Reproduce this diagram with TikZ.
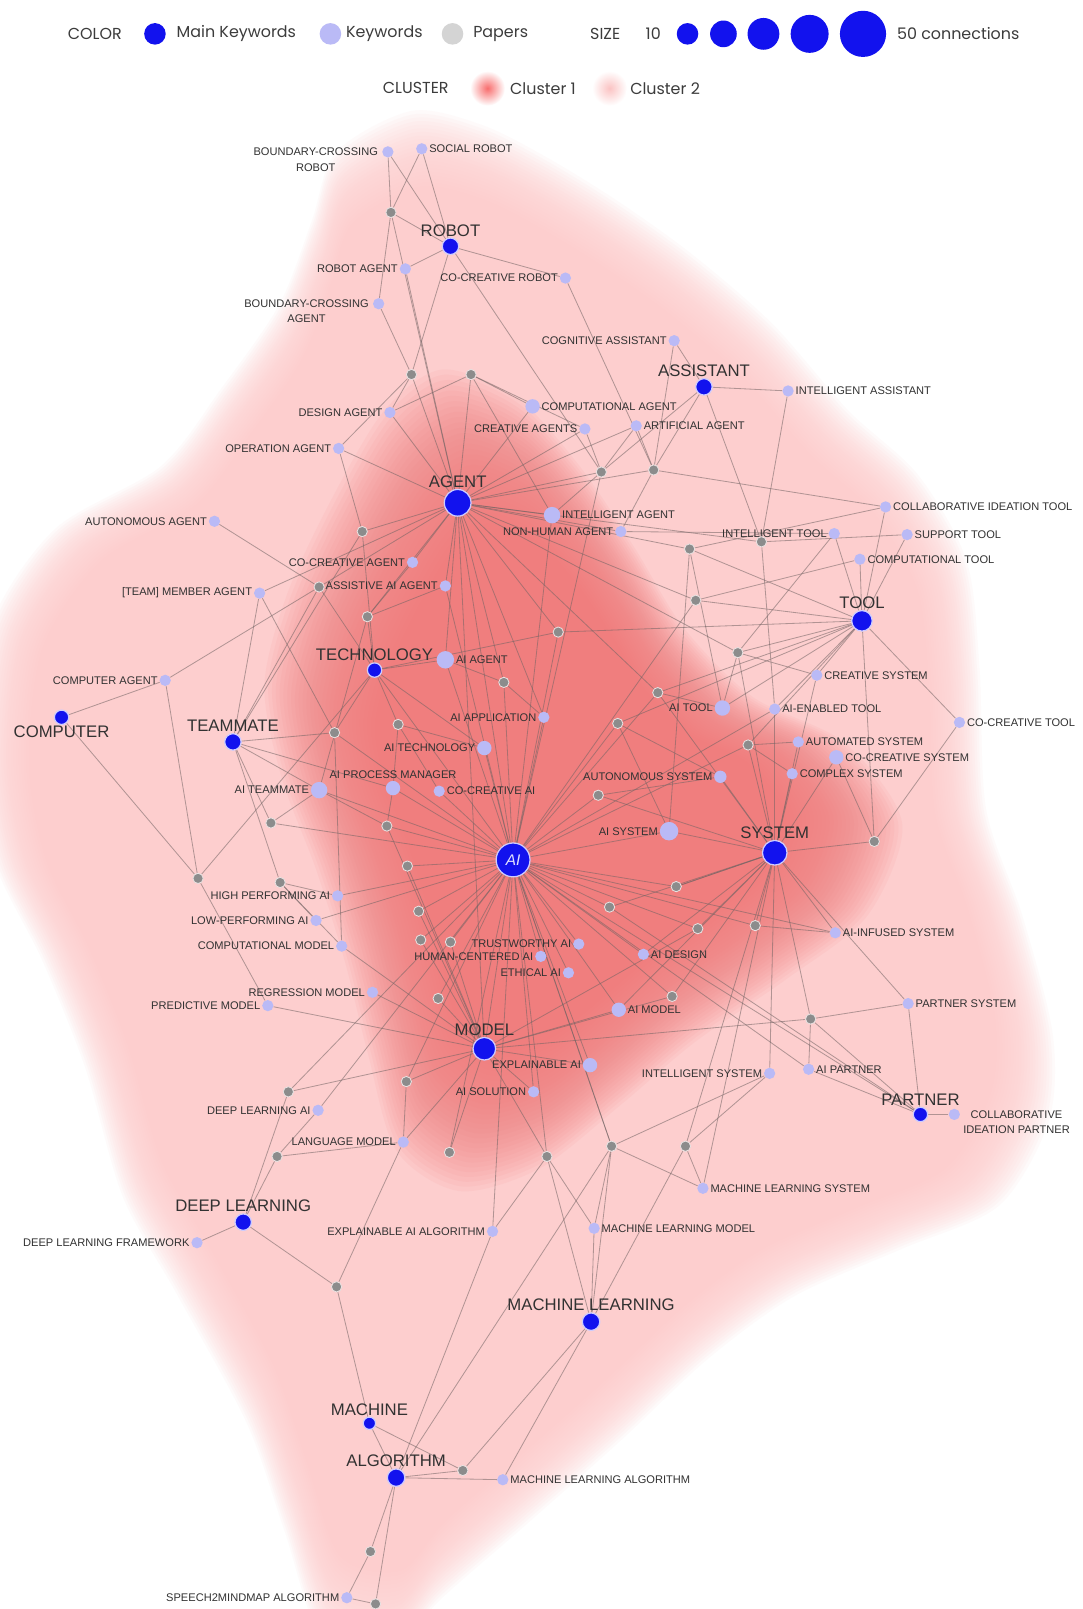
\documentclass[tikz,border=0pt]{standalone}
\usepackage{fontspec}
\setmainfont{Liberation Sans}
\newfontfamily\legfont{Poppins}
\usetikzlibrary{calc}
\pgfdeclarelayer{clu}
\pgfdeclarelayer{edg}
\pgfsetlayers{clu,edg,main}
\definecolor{mainblue}{RGB}{18,18,238}
\definecolor{ringblue}{RGB}{205,205,255}
\definecolor{kwcol}{RGB}{186,186,246}
\definecolor{papcol}{RGB}{140,140,140}
\definecolor{edgecol}{RGB}{115,100,100}
\definecolor{txtcol}{RGB}{50,50,50}
\definecolor{legtxt}{RGB}{60,60,60}
\definecolor{clA}{RGB}{240,124,124}
\definecolor{clB}{RGB}{253,206,206}
\tikzset{
  mkw/.style={circle, fill=mainblue, draw=ringblue, line width=1.2pt, inner sep=0pt, minimum size=#1},
  kw/.style={circle, fill=kwcol, inner sep=0pt, minimum size=#1},
  kw/.default=11pt,
  pap/.style={circle, fill=papcol, draw={rgb,255:red,232;green,226;blue,226}, line width=0.8pt, inner sep=0pt, minimum size=10pt},
  lbl/.style={font=\fontsize{10.8}{15}\selectfont, text=txtcol, inner sep=1.5pt},
  mlbl/.style={font=\fontsize{16.3}{18}\selectfont, text=txtcol, inner sep=1pt},
  lnk/.style={draw=edgecol, line width=0.8pt, draw opacity=0.55},
  leg/.style={font=\legfont\fontsize{15.5}{18}\selectfont, text=legtxt, inner sep=0pt},
}
\newcommand\kwL[5][11pt]{\node[kw=#1] (#2) at (#3,#4) {}; \node[lbl, anchor=east] (#2t) at (#2.west) {#5};}
\newcommand\kwR[5][11pt]{\node[kw=#1] (#2) at (#3,#4) {}; \node[lbl, anchor=west] (#2t) at (#2.east) {#5};}
\newcommand\mainK[5]{\node[mkw=#1] (#2) at (#3,#4) {}; \node[mlbl, anchor=south] (#2t) at (#2.north) {#5};}
\newcommand\paperN[3]{\node[pap] (#1) at (#2,#3) {};}
\begin{document}
\begin{tikzpicture}[x=1pt,y=-1pt]
\useasboundingbox (0,0) rectangle (1055,1568);
\begin{pgfonlayer}{clu}
\fill[white] (0,0) rectangle (1055,1568);
\foreach \i in {0,...,23}{
  \pgfmathsetmacro\s{1.05-0.0052*\i}
  \fill[clB, fill opacity=0.095, scale around={\s:(480,820)}] plot[smooth cycle] coordinates {
   (405,142) (470,155) (530,185) (595,225) (665,275) (740,340) (810,420) (875,480) (920,560) (932,660) (938,790) (972,890) (1000,1000) (996,1080) (950,1158) (860,1198) (760,1242) (680,1300) (600,1375) (510,1455) (430,1525) (385,1575) (322,1560) (287,1460) (252,1360) (187,1240) (137,1150) (102,1030) (62,930) (18,840) (0,740) (14,620) (74,530) (172,472) (228,400) (282,322) (312,245) (335,180)};
}
\foreach \i in {0,...,29}{
  \pgfmathsetmacro\s{1.12-0.0138*\i}
  \fill[clA, fill opacity=0.075, scale around={\s:(560,780)}] plot[smooth cycle] coordinates {
   (445,405) (510,430) (565,490) (612,560) (655,630) (715,690) (795,730) (845,800) (815,880) (745,935) (665,990) (600,1045) (530,1100) (460,1120) (405,1085) (380,1000) (360,920) (335,840) (305,760) (290,680) (310,600) (350,515) (395,440)};
}
\end{pgfonlayer}

% ---------- legend ----------
\node[leg, anchor=west] (lcolor) at (66,33) {COLOR};
\node[circle, fill=mainblue, inner sep=0pt, minimum size=21pt] (lmain) at (151,33) {};
\node[leg, anchor=west] (lmaint) at (172,33) {Main Keywords};
\node[circle, fill=kwcol, inner sep=0pt, minimum size=21pt] (lkw) at (322,33) {};
\node[leg, anchor=west] (lkwt) at (337,33) {Keywords};
\node[circle, fill={rgb,255:red,212;green,212;blue,212}, inner sep=0pt, minimum size=21pt] (lpap) at (441,33) {};
\node[leg, anchor=west] (lpapt) at (461,33) {Papers};
\node[leg, anchor=west] (lsize) at (575,33) {SIZE};
\node[leg, anchor=west] (l10) at (629,33) {10};
\node[circle, fill=mainblue, inner sep=0pt, minimum size=21pt] (ls1) at (670,33) {};
\node[circle, fill=mainblue, inner sep=0pt, minimum size=26pt] (ls2) at (705,33) {};
\node[circle, fill=mainblue, inner sep=0pt, minimum size=31pt] (ls3) at (744,33) {};
\node[circle, fill=mainblue, inner sep=0pt, minimum size=37pt] (ls4) at (789,33) {};
\node[circle, fill=mainblue, inner sep=0pt, minimum size=45pt] (ls5) at (841,33) {};
\node[leg, anchor=west] (l50) at (874,33) {50 connections};
\node[leg, anchor=west] (lclu) at (373,86) {CLUSTER};
\shade[inner color={rgb,255:red,248;green,110;blue,110}, outer color=white] (475,86) circle (17pt);
\node[leg, anchor=west] (lc1) at (497,86) {Cluster 1};
\shade[inner color={rgb,255:red,251;green,195;blue,195}, outer color=white] (594,86) circle (17pt);
\node[leg, anchor=west] (lc2) at (614,86) {Cluster 2};

% ---------- main keywords ----------
\mainK{16pt}{robot}{439}{240}{ROBOT}
\mainK{16pt}{assistant}{686}{377}{ASSISTANT}
\mainK{26pt}{agent}{446}{490}{AGENT}
\mainK{20pt}{tool}{840}{605}{TOOL}
\mainK{14pt}{technology}{365}{653}{TECHNOLOGY}
\node[mkw=14pt] (computer) at (60,699) {};
\node[mlbl, anchor=north] (computert) at (computer.south) {COMPUTER};
\mainK{16pt}{teammate}{227}{723}{TEAMMATE}
\node[mkw=33pt, text={rgb,255:red,225;green,225;blue,255}, font=\fontsize{15}{15}\selectfont\itshape] (ai) at (500,838) {AI};
\mainK{24pt}{system}{755}{831}{SYSTEM}
\mainK{22pt}{model}{472}{1022}{MODEL}
\mainK{14pt}{partner}{897}{1086}{PARTNER}
\mainK{16pt}{dl}{237}{1191}{DEEP LEARNING}
\mainK{17pt}{ml}{576}{1288}{MACHINE LEARNING}
\mainK{12pt}{machine}{360}{1387}{MACHINE}
\mainK{17pt}{algorithm}{386}{1440}{ALGORITHM}

% ---------- keywords ----------
\node[kw] (bcr) at (378,148) {};
\node[lbl, align=center, anchor=north east] (bcrt) at (370,142.5) {BOUNDARY-CROSSING\\ROBOT};
\node[kw] (bca) at (369,296) {};
\node[lbl, align=center, anchor=north east] (bcat) at (361,290.5) {BOUNDARY-CROSSING\\AGENT};
\node[kw] (cip) at (930,1086) {};
\node[lbl, align=center, anchor=north west] (cipt) at (937,1080.5) {COLLABORATIVE\\IDEATION PARTNER};
\node[kw=14pt] (aipm) at (383,768) {};
\node[lbl, anchor=south] (aipmt) at (aipm.north) {AI PROCESS MANAGER};

\kwL{roba}{395}{262}{ROBOT AGENT}
\kwL{ccr}{551}{271}{CO-CREATIVE ROBOT}
\kwL{cogas}{657}{332}{COGNITIVE ASSISTANT}
\kwL{desag}{380}{402}{DESIGN AGENT}
\kwL{creag}{570}{418}{CREATIVE AGENTS}
\kwL{opag}{330}{437}{OPERATION AGENT}
\kwL{autag}{209}{508}{AUTONOMOUS AGENT}
\kwL{nhag}{605}{518}{NON-HUMAN AGENT}
\kwL{inttool}{813}{520}{INTELLIGENT TOOL}
\kwL{ccag}{402}{548}{CO-CREATIVE AGENT}
\kwL{asag}{434}{571}{ASSISTIVE AI AGENT}
\kwL{tmag}{253}{578}{[TEAM] MEMBER AGENT}
\kwL{compuag}{161}{663}{COMPUTER AGENT}
\kwL{aiapp}{530}{699}{AI APPLICATION}
\kwL[15pt]{aitool}{704}{690}{AI TOOL}
\kwL[14pt]{aitech}{472}{729}{AI TECHNOLOGY}
\kwL[16pt]{aitm}{311}{770}{AI TEAMMATE}
\kwL[12pt]{autonsys}{702}{757}{AUTONOMOUS SYSTEM}
\kwL[18pt]{aisys}{652}{810}{AI SYSTEM}
\kwL{hpai}{329}{873}{HIGH PERFORMING AI}
\kwL{lpai}{308}{897}{LOW-PERFORMING AI}
\kwL{compmod}{333}{922}{COMPUTATIONAL MODEL}
\kwL{twai}{564}{920}{TRUSTWORTHY AI}
\kwL{hcai}{527}{932}{HUMAN-CENTERED AI}
\kwL{ethai}{554}{948}{ETHICAL AI}
\kwL{regmod}{363}{967}{REGRESSION MODEL}
\kwL{predmod}{261}{980}{PREDICTIVE MODEL}
\kwL[14pt]{xai}{575}{1038}{EXPLAINABLE AI}
\kwL{intsys}{750}{1046}{INTELLIGENT SYSTEM}
\kwL{aisol}{520}{1064}{AI SOLUTION}
\kwL{dlai}{310}{1082}{DEEP LEARNING AI}
\kwL{langmod}{393}{1113}{LANGUAGE MODEL}
\kwL{xaialg}{480}{1200}{EXPLAINABLE AI ALGORITHM}
\kwL{dlfw}{192}{1211}{DEEP LEARNING FRAMEWORK}
\kwL{s2m}{338}{1557}{SPEECH2MINDMAP ALGORITHM}

\kwR{socr}{411}{145}{SOCIAL ROBOT}
\kwR{intas}{768}{381}{INTELLIGENT ASSISTANT}
\kwR[14pt]{compag}{519}{396}{COMPUTATIONAL AGENT}
\kwR{artag}{620}{415}{ARTIFICIAL AGENT}
\kwR[16pt]{intag}{538}{502}{INTELLIGENT AGENT}
\kwR{citool}{863}{494}{COLLABORATIVE IDEATION TOOL}
\kwR{suptool}{884}{521}{SUPPORT TOOL}
\kwR{comptool}{838}{545}{COMPUTATIONAL TOOL}
\kwR[17pt]{aiag}{434}{643}{AI AGENT}
\kwR{cresys}{796}{658}{CREATIVE SYSTEM}
\kwR{aietool}{755}{691}{AI-ENABLED TOOL}
\kwR{cctool}{935}{704}{CO-CREATIVE TOOL}
\kwR{autosys}{778}{723}{AUTOMATED SYSTEM}
\kwR[14pt]{ccsys}{815}{738}{CO-CREATIVE SYSTEM}
\kwR{cplxsys}{772}{754}{COMPLEX SYSTEM}
\kwR{ccai}{428}{771}{CO-CREATIVE AI}
\kwR{aides}{627}{930}{AI DESIGN}
\kwR{aiinf}{814}{909}{AI-INFUSED SYSTEM}
\kwR{partsys}{885}{978}{PARTNER SYSTEM}
\kwR[14pt]{aimod}{603}{984}{AI MODEL}
\kwR{aipart}{788}{1042}{AI PARTNER}
\kwR{mlsys}{685}{1158}{MACHINE LEARNING SYSTEM}
\kwR{mlmod}{579}{1197}{MACHINE LEARNING MODEL}
\kwR{mlalg}{490}{1442}{MACHINE LEARNING ALGORITHM}

% ---------- papers ----------
\paperN{p1}{381}{207} \paperN{p2}{401}{365} \paperN{p3}{459}{365}
\paperN{p4}{586}{460} \paperN{p5}{637}{458} \paperN{p6}{353}{518}
\paperN{p7}{672}{535} \paperN{p8}{742}{528} \paperN{p9}{311}{572}
\paperN{p10}{358}{601} \paperN{p11}{544}{616} \paperN{p12}{678}{585}
\paperN{p13}{719}{636} \paperN{p14}{491}{665} \paperN{p15}{326}{714}
\paperN{p16}{388}{706} \paperN{p17}{641}{675} \paperN{p18}{602}{705}
\paperN{p19}{729}{726} \paperN{p20}{583}{775} \paperN{p21}{264}{802}
\paperN{p22}{377}{805} \paperN{p23}{397}{844} \paperN{p24}{852}{820}
\paperN{p25}{193}{856} \paperN{p26}{273}{860} \paperN{p27}{659}{864}
\paperN{p28}{594}{884} \paperN{p29}{408}{888} \paperN{p30}{680}{905}
\paperN{p31}{736}{902} \paperN{p32}{410}{916} \paperN{p33}{439}{918}
\paperN{p34}{655}{971} \paperN{p35}{427}{973} \paperN{p36}{790}{993}
\paperN{p37}{396}{1054} \paperN{p38}{281}{1064} \paperN{p39}{270}{1127}
\paperN{p40}{438}{1123} \paperN{p41}{533}{1127} \paperN{p42}{596}{1117}
\paperN{p43}{668}{1117} \paperN{p44}{328}{1254} \paperN{p45}{451}{1433}
\paperN{p46}{361}{1512} \paperN{p47}{366}{1563}

% ---------- connectors ----------
\begin{pgfonlayer}{edg}
\foreach \a/\b in {
 bcr/p1, bcr/robot, socr/p1, socr/robot, p1/robot, robot/roba, robot/ccr, p1/bca, p1/agent, roba/agent,
 bca/p2, robot/p2, robot/p4, ccr/p5, p2/desag, p2/agent, p2/opag, p3/desag, p3/compag, p3/agent,
 p3/creag, p3/intag, compag/agent, creag/agent, creag/p4, artag/agent, artag/p4, artag/p5, cogas/assistant, cogas/p5,
 assistant/intas, assistant/p4, assistant/p5, assistant/p8, intas/p8, desag/agent, opag/agent,
 autag/p9, p9/agent, p9/compuag, p9/technology, p9/teammate, tmag/agent, tmag/teammate, tmag/p15,
 compuag/computer, compuag/p25, computer/p25, ccag/agent, ccag/p10, asag/agent, asag/ai, asag/p10,
 p6/opag, p6/agent, p6/technology, p6/teammate, p10/agent, p10/technology, p10/aitm,
 aiag/agent, aiag/technology, aiag/ai, technology/p15, technology/p16, technology/aitech, technology/ai, technology/p25,
 p11/agent, p11/ai, p11/tool, p11/technology, p14/agent, p14/ai, p14/aiag, aiapp/ai, aiapp/p14, aiapp/agent,
 intag/agent, intag/p4, intag/ai, nhag/agent, nhag/inttool, nhag/p5, p4/agent, p4/ai, p5/agent, p5/citool,
 p7/agent, p7/tool, p7/citool, p7/aitool, p7/aisys, p8/suptool, p8/aietool, p8/agent, agent/ai, agent/p12,
 agent/p13, agent/p17, agent/model,
 citool/tool, suptool/tool, comptool/tool, comptool/p12, inttool/tool, inttool/p13, tool/p12, tool/p13,
 tool/aitool, tool/aietool, tool/cresys, tool/cctool, tool/p24, tool/p19, tool/p17, tool/p18, cctool/p24,
 cresys/system, cresys/p13, aietool/system, aietool/ai, autosys/system, autosys/p19, ccsys/system, ccsys/p24,
 cplxsys/system, cplxsys/p19, autonsys/system, autonsys/p18, autonsys/p20, aitool/p17, aitool/p13,
 p13/system, p19/system, p19/ai, p12/ai, p17/ai, p17/system, p18/ai, p18/aisys, p20/ai, p20/system,
 aisys/ai, aisys/system,
 system/p24, system/p27, system/p28, system/p30, system/p31, system/aiinf, system/partsys, system/intsys,
 system/mlsys, system/p36, system/p34, system/aimod, system/aides,
 p36/partsys, p36/aipart, p36/partner, p36/model, partsys/partner, aiinf/p31, aiinf/ai, partner/cip,
 partner/aipart, partner/ai, partner/p28, aipart/ai, intsys/p43, intsys/p42, mlsys/p43, mlsys/p42,
 ml/mlmod, ml/mlalg, ml/p41, ml/p42, ml/p43, ml/p45, algorithm/xaialg, algorithm/p42, algorithm/p45,
 algorithm/mlalg, algorithm/machine, algorithm/p46, algorithm/p47, s2m/p47, s2m/p46, machine/p44, machine/p45,
 p44/dl, p44/langmod, xaialg/ai, xaialg/p41, mlmod/p41, mlmod/p42, p41/model, p41/ai, p42/ai, p43/system,
 p40/model, p40/ai, p37/model, p37/langmod, p37/ai, dl/dlfw, dl/p39, dl/p38, p39/dlai, p39/langmod,
 p38/ai, p38/model, dlai/ai, langmod/model, predmod/model, predmod/p25, regmod/model, compmod/model,
 compmod/p26, compmod/p15, hpai/ai, hpai/p26, lpai/ai, lpai/p26, p26/teammate, p21/teammate, p21/aitm,
 p21/ai, aitm/teammate, aitm/ai, teammate/p15, teammate/aipm, p15/ai, p16/aitech, p16/aipm, p16/ccai,
 aipm/ai, aitech/ai, ccai/ai, p22/aipm, p22/ai, p22/aitm, p22/model, p23/ai, p23/model, p29/ai, p29/model,
 p32/ai, p32/model, p33/ai, p33/model, p35/ai, p35/model, p27/ai, p27/system, p28/ai, p30/ai, p30/model,
 p31/ai, p34/model, p34/ai, aides/ai, aimod/model, aimod/ai, twai/ai, hcai/ai, ethai/ai, xai/model, xai/ai,
 aisol/ai, aisol/model, ai/model, ai/p42}
 {\draw[lnk] (\a) -- (\b);}
\end{pgfonlayer}
\end{tikzpicture}
\end{document}
